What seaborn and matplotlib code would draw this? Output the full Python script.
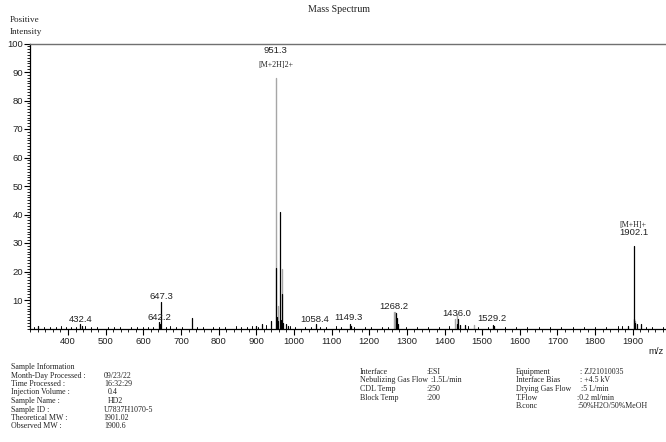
import matplotlib
matplotlib.use("Agg")
import matplotlib.pyplot as plt
from matplotlib.ticker import MultipleLocator
import numpy as np
import pandas as pd
import seaborn as sns

# ---------------- data ----------------
gray_mz = [951.3, 968.0, 959.0, 1265.0, 1268.0, 1429.0, 1432.0, 1478.0, 1906.0]
gray_int = [88.0, 21.0, 8.0, 5.8, 5.8, 3.3, 5.0, 1.4, 2.5]

black_mz = [951.3, 962.0, 968.0, 955.5, 957.5, 965.0, 972.0, 978.0, 985.0,
            940.0, 915.0, 898.0, 647.3, 642.2, 644.5, 728.0, 432.4, 437.0,
            320.0, 1058.4, 1149.3, 1152.0, 1270.0, 1273.0, 1276.0, 1436.0,
            1433.0, 1440.0, 1455.0, 1529.2, 1531.0, 1902.1, 1903.5, 1907.0,
            1910.0, 1922.0, 1888.0]
black_int = [21.4, 41.0, 12.0, 4.0, 2.5, 3.0, 2.0, 1.5, 1.0,
             2.7, 1.5, 0.8, 9.4, 2.4, 1.5, 3.6, 1.5, 0.8,
             1.0, 1.6, 1.5, 0.8, 5.5, 3.7, 1.5, 3.3,
             1.5, 1.2, 1.3, 1.2, 0.8, 29.0, 3.2, 2.0,
             1.5, 1.6, 0.8]

noise_mz = [310, 335, 352, 368, 381, 395, 408, 421, 445, 460, 478, 505, 521,
            538, 567, 583, 598, 612, 625, 660, 672, 688, 703, 742, 758, 786,
            802, 817, 846, 860, 875, 888, 905, 925, 990, 1003, 1030, 1045,
            1070, 1085, 1112, 1125, 1160, 1190, 1205, 1235, 1250, 1298, 1326,
            1355, 1385, 1412, 1462, 1490, 1515, 1560, 1590, 1620, 1650, 1680,
            1710, 1740, 1770, 1800, 1830, 1860, 1872, 1935, 1950, 1980]
noise_int = [0.6, 0.5, 0.7, 0.4, 0.8, 0.5, 0.6, 0.4, 0.9, 0.5, 0.6, 0.4, 0.7,
             0.5, 0.6, 0.4, 0.5, 0.7, 0.6, 0.5, 0.8, 0.4, 0.6, 0.5, 0.7, 0.4,
             0.6, 0.5, 0.9, 0.6, 0.5, 1.0, 0.7, 1.1, 0.9, 0.6, 0.5, 0.7,
             0.6, 0.5, 0.8, 0.6, 0.7, 0.5, 0.6, 0.7, 0.5, 0.6, 0.5,
             0.7, 0.5, 0.8, 0.9, 0.6, 0.7, 0.5, 0.6, 0.4, 0.7, 0.5,
             0.6, 0.5, 0.7, 0.5, 0.6, 0.8, 0.9, 0.6, 0.5, 0.4]

peak_labels = ["432.4", "642.2", "647.3", "951.3", "1058.4", "1149.3",
               "1268.2", "1436.0", "1529.2", "1902.1"]
peak_label_mz = [432.4, 642.2, 647.3, 951.3, 1055.0, 1145.0,
                 1265.0, 1432.0, 1525.0, 1902.1]

x_ticks = [400, 500, 600, 700, 800, 900, 1000, 1100, 1200, 1300, 1400,
           1500, 1600, 1700, 1800, 1900]
y_ticks = [10, 20, 30, 40, 50, 60, 70, 80, 90, 100]

info_left_keys = ["Month-Day Processed :", "Time Processed :", "Injection Volume :",
                  "Sample Name :", "Sample ID :", "Theoretical MW :", "Observed MW :"]
info_left_vals = ["09/23/22", "16:32:29", "0.4", "HD2", "U7837H1070-5", "1901.02", "1900.6"]
info_mid_keys = ["Interface", "Nebulizing Gas Flow", "CDL Temp", "Block Temp"]
info_mid_vals = [":ESI", ":1.5L/min", ":250", ":200"]
info_right_keys = ["Equipment", "Interface Bias", "Drying Gas Flow", "T.Flow", "B.conc"]
info_right_vals = [": ZJ21010035", ": +4.5 kV", ":5 L/min", ":0.2 ml/min", ":50%H2O/50%MeOH"]


def sticks(mz, inten, tone):
    rows = []
    for i, (m, h) in enumerate(zip(mz, inten)):
        rows.append({"mz": m, "y": 0.0, "stick": f"{tone}{i}", "tone": tone})
        rows.append({"mz": m, "y": h, "stick": f"{tone}{i}", "tone": tone})
    return pd.DataFrame(rows)


sns.set_style("white")
plt.rcParams["font.family"] = ["Liberation Sans", "DejaVu Sans"]

W, H = 666, 442
fig = plt.figure(figsize=(W / 100, H / 100), dpi=100)
left_px, top_px, base_px = 30, 43.5, 328.5
x0, x1 = 299.0, 2000.0
ppu = 0.3765
ax = fig.add_axes([left_px / W, 1 - base_px / H,
                   (x1 - x0) * ppu / W, (base_px - top_px) / H])

df_noise = sticks(noise_mz, noise_int, "n")
df_gray = sticks(gray_mz, gray_int, "g")
df_black = sticks(black_mz, black_int, "b")

common = dict(x="mz", y="y", units="stick", estimator=None, sort=False,
              legend=False, ax=ax)
sns.lineplot(data=df_noise, color="black", linewidth=0.7, **common)
sns.lineplot(data=df_gray, color="#a6a6a6", linewidth=1.0, **common)
sns.lineplot(data=df_black, color="black", linewidth=0.9, **common)

ax.set_xlim(x0, x1)
ax.set_ylim(0, 100)
ax.set_xlabel("")
ax.set_ylabel("")
ax.set_xticks(x_ticks)
ax.set_xticklabels([str(t) for t in x_ticks])
ax.set_yticks(y_ticks)
ax.set_yticklabels([str(t) for t in y_ticks])
ax.xaxis.set_minor_locator(MultipleLocator(20))
ax.yaxis.set_minor_locator(MultipleLocator(1))
ax.tick_params(axis="both", which="major", direction="out", length=4,
               width=0.8, color="black", labelsize=6.8, pad=2,
               labelcolor="#222222", bottom=True, left=True)
ax.tick_params(axis="both", which="minor", direction="out", length=2,
               width=0.6, color="black", bottom=True, left=True)
ax.tick_params(axis="y", which="major", pad=1)

for s in ["left", "bottom"]:
    ax.spines[s].set_color("black")
    ax.spines[s].set_linewidth(0.9)
ax.spines["top"].set_color("#707070")
ax.spines["top"].set_linewidth(1.0)
ax.spines["right"].set_visible(False)

# peak labels
label_y = {"432.4": 3.3, "642.2": 3.7, "647.3": 11.3, "951.3": 97.6,
           "1058.4": 3.3, "1149.3": 3.8, "1268.2": 7.7, "1436.0": 5.3,
           "1529.2": 3.6, "1902.1": 33.6}
for lab, m in zip(peak_labels, peak_label_mz):
    ax.text(m, label_y[lab], lab, ha="center", va="center", fontsize=6.8,
            color="#222222", family=["Liberation Sans", "DejaVu Sans"])
ax.text(951.3, 92.6, "[M+2H]2+", ha="center", va="center", fontsize=5.8,
        family=["Liberation Serif", "DejaVu Serif"], color="#222222")
ax.text(1899.0, 36.3, "[M+H]+", ha="center", va="center", fontsize=5.8,
        family=["Liberation Serif", "DejaVu Serif"], color="#222222")

serif = ["Liberation Serif", "DejaVu Serif"]


def ftext(xp, yp, s, size=5.7, ha="left"):
    fig.text(xp / W, 1 - yp / H, s, ha=ha, va="center", fontsize=size,
             family=serif, color="#222222")


ftext(339, 9.5, "Mass Spectrum", size=7.2, ha="center")
ftext(10, 20, "Positive", size=6.6)
ftext(10, 31.5, "Intensity", size=6.6)
fig.text(648 / W, 1 - 352 / H, "m/z", ha="left", va="center", fontsize=6.8,
         color="#222222")

# info blocks
step = 8.5
ftext(11, 367, "Sample Information")
val_x = [104, 104, 108, 108, 104, 103, 104]
for i, (k, v) in enumerate(zip(info_left_keys, info_left_vals)):
    yp = 375.5 + i * step
    ftext(11, yp, k)
    ftext(val_x[i], yp, v)
mid_x = [426, 430, 426, 426]
for i, (k, v) in enumerate(zip(info_mid_keys, info_mid_vals)):
    yp = 372 + i * step
    ftext(360, yp, k)
    ftext(mid_x[i], yp, v)
right_x = [580, 580, 581, 577, 577]
for i, (k, v) in enumerate(zip(info_right_keys, info_right_vals)):
    yp = 372 + i * step
    ftext(516, yp, k)
    ftext(right_x[i], yp, v)

fig.savefig("out.png", dpi=100)
